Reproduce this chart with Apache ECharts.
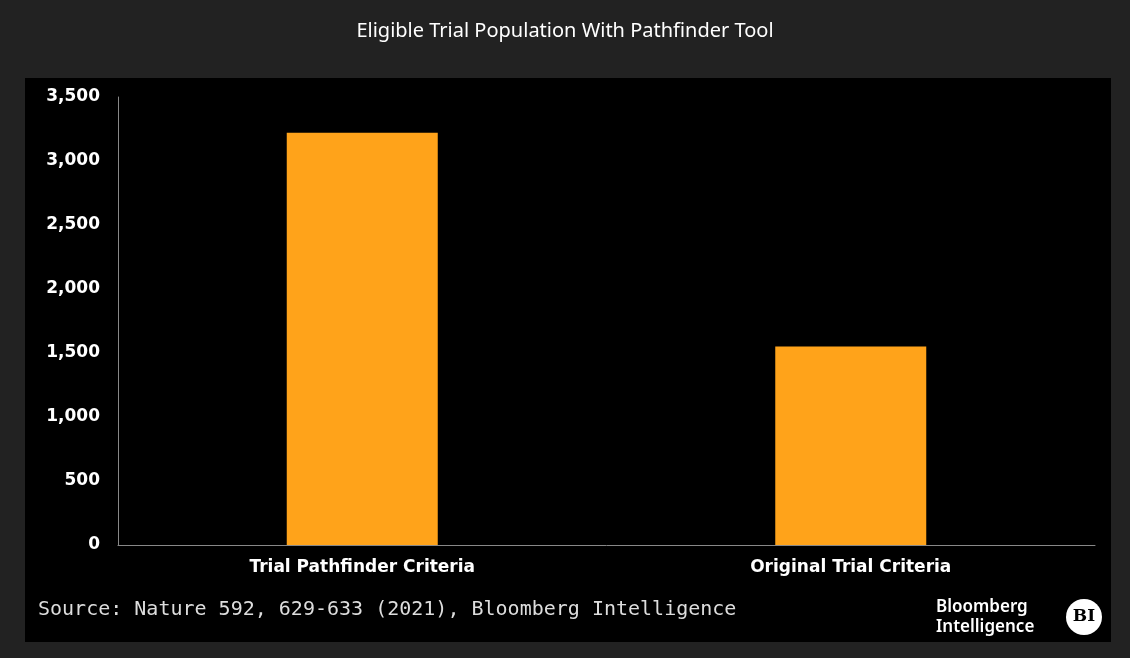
<!DOCTYPE html>
<html>
<head>
<meta charset="UTF-8"/>
<script src="https://cdn.jsdelivr.net/npm/echarts@6/dist/echarts.min.js"></script>
<style>body{margin:0;background:#222222;}</style>
</head>
<body>
<div id="main" style="width:1130px;height:658px;"></div>
<script>
var categories = ['Trial Pathfinder Criteria', 'Original Trial Criteria'];
var values = [3220, 1550];

var chart = echarts.init(document.getElementById('main'));
chart.setOption({
    backgroundColor: '#222222',
    title: {
        text: 'Eligible Trial Population With Pathfinder Tool',
        left: 'center', top: 16,
        textStyle: {color: '#ffffff', fontSize: 20, fontWeight: 'normal', fontFamily: 'Noto Sans'}
    },
    graphic: [
        {type: 'rect', z: -1, shape: {x: 25, y: 78, width: 1086, height: 564}, style: {fill: '#000000'}},
        {type: 'text', left: 38, top: 600, style: {text: 'Source: Nature 592, 629-633 (2021), Bloomberg Intelligence', fill: '#dddddd', font: '20px "DejaVu Sans Mono"'}},
        {type: 'text', left: 936, top: 597, style: {text: 'Bloomberg\nIntelligence', fill: '#ffffff', font: '600 17px "Noto Sans"', lineHeight: 20}},
        {type: 'circle', shape: {cx: 1084, cy: 617, r: 18}, style: {fill: '#ffffff'}},
        {type: 'text', x: 1084, y: 617, style: {text: 'BI', fill: '#000000', font: 'bold 17px "DejaVu Serif"', align: 'center', verticalAlign: 'middle'}}
    ],
    grid: {left: 118, right: 35, top: 97, bottom: 113},
    xAxis: {
        type: 'category', data: categories,
        axisLine: {lineStyle: {color: '#888888'}},
        axisTick: {show: false},
        axisLabel: {color: '#ffffff', fontSize: 17, fontWeight: 'bold', fontFamily: 'Verdana, DejaVu Sans', margin: 14}
    },
    yAxis: {
        type: 'value', min: 0, max: 3500, interval: 500,
        axisLine: {show: true, lineStyle: {color: '#888888'}},
        splitLine: {show: false},
        axisLabel: {color: '#ffffff', fontSize: 17, fontWeight: 'bold', fontFamily: 'DejaVu Sans', margin: 18,
            formatter: function (v) { return v.toLocaleString('en-US'); }}
    },
    series: [{
        type: 'bar', data: values, barWidth: 151,
        itemStyle: {color: '#ffa31a'}
    }]
});
</script>
</body>
</html>
